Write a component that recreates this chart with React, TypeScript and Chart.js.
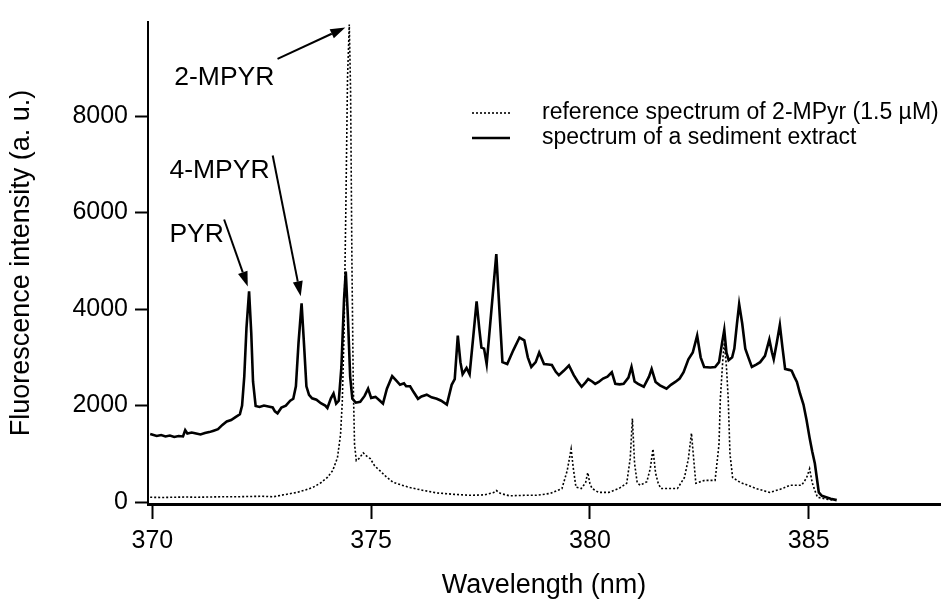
import React, { useEffect, useRef } from "react";
import { Chart, registerables } from "chart.js";

Chart.register(...registerables);

// ---------- data ----------
const SOLID_WL = [
  369.95, 370.1, 370.2, 370.3, 370.4, 370.5, 370.6, 370.7, 370.75, 370.8, 370.9, 371.0, 371.1, 371.2, 371.3, 371.4,
  371.5, 371.6, 371.7, 371.8, 371.9, 372.0, 372.05, 372.1, 372.15, 372.21, 372.26, 372.3, 372.36, 372.45, 372.55,
  372.65, 372.75, 372.8, 372.86, 372.95, 373.05, 373.15, 373.22, 373.28, 373.34, 373.41, 373.47, 373.52, 373.58,
  373.65, 373.75, 373.85, 373.95, 374.0, 374.08, 374.14, 374.2, 374.26, 374.32, 374.38, 374.42, 374.47, 374.52,
  374.57, 374.65, 374.75, 374.85, 374.93, 375.0, 375.1, 375.2, 375.27, 375.36, 375.48, 375.57, 375.66, 375.75,
  375.8, 375.89, 375.97, 376.07, 376.15, 376.27, 376.38, 376.5, 376.6, 376.73, 376.84, 376.91, 376.98, 377.04,
  377.09, 377.18, 377.25, 377.33, 377.41, 377.47, 377.52, 377.58, 377.64, 377.75, 377.86, 377.93, 378.0, 378.11,
  378.25, 378.39, 378.5, 378.58, 378.66, 378.76, 378.84, 378.95, 379.05, 379.13, 379.22, 379.29, 379.4, 379.52,
  379.63, 379.72, 379.81, 379.9, 379.96, 380.05, 380.12, 380.2, 380.3, 380.4, 380.5, 380.58, 380.68, 380.77,
  380.88, 380.95, 381.02, 381.1, 381.23, 381.35, 381.41, 381.5, 381.6, 381.75, 381.85, 381.95, 382.05, 382.14,
  382.25, 382.35, 382.45, 382.53, 382.61, 382.75, 382.86, 382.95, 383.02, 383.07, 383.12, 383.17, 383.25, 383.3,
  383.36, 383.41, 383.48, 383.55, 383.62, 383.7, 383.8, 383.89, 384.0, 384.1, 384.16, 384.2, 384.27, 384.34,
  384.4, 384.46, 384.55, 384.61, 384.67, 384.73, 384.8, 384.88, 384.95, 385.02, 385.08, 385.14, 385.2, 385.23,
  385.3, 385.4, 385.5, 385.64,
];
const SOLID_I = [
  1410, 1370, 1390, 1360, 1380, 1350, 1370, 1360, 1490, 1420, 1440, 1420, 1400, 1430, 1450, 1480,
  1510, 1600, 1670, 1700, 1760, 1820, 2000, 2600, 3600, 4370, 3500, 2500, 1990, 1970, 2000,
  1980, 1960, 1880, 1840, 1960, 2000, 2100, 2140, 2400, 3300, 4120, 3200, 2400, 2220,
  2150, 2120, 2050, 2000, 1950, 2150, 2250, 2040, 2100, 2800, 4200, 4780, 3800, 2600,
  2140, 2060, 2080, 2200, 2350, 2160, 2180, 2100, 2040, 2350, 2610, 2520, 2430, 2460,
  2400, 2400, 2280, 2140, 2190, 2225, 2170, 2140, 2100, 2020, 2430, 2550, 3450, 2900,
  2650, 2780, 2650, 3400, 4160, 3600, 3200, 3180, 2860, 4000, 5140, 4000, 2900, 2860,
  3150, 3410, 3350, 3000, 2800, 2900, 3100, 2860, 2850, 2840, 2700, 2630, 2720, 2830,
  2630, 2500, 2390, 2480, 2550, 2500, 2450, 2490, 2560, 2600, 2690, 2450, 2440, 2450,
  2580, 2800, 2500, 2450, 2390, 2600, 2760, 2490, 2420, 2350, 2430, 2490, 2560, 2690,
  2960, 3100, 3450, 3000, 2800, 2790, 2800, 2900, 3300, 3570, 3100, 2940, 3000, 3180,
  3700, 4100, 3700, 3180, 3000, 2800, 2850, 2900, 3030, 3370, 3100, 2960, 3300, 3670,
  3200, 2760, 2740, 2720, 2600, 2490, 2250, 2020, 1700, 1330, 1050, 800, 400, 200,
  130, 100, 70, 40,
];

const REF_WL = [
  369.95, 370.2, 370.5, 370.8, 371.0, 371.3, 371.6, 371.9, 372.2, 372.5, 372.77, 373.0, 373.3, 373.5, 373.68,
  373.85, 374.0, 374.12, 374.23, 374.3, 374.34, 374.38, 374.42, 374.46, 374.5, 374.53, 374.56, 374.59, 374.62,
  374.66, 374.72, 374.82, 374.9, 374.98, 375.08, 375.2, 375.35, 375.5, 375.7, 375.89, 376.2, 376.5, 376.9,
  377.25, 377.6, 377.8, 377.86, 377.95, 378.16, 378.5, 378.77, 379.1, 379.36, 379.48, 379.57, 379.62, 379.68,
  379.8, 379.9, 379.95, 380.0, 380.05, 380.2, 380.43, 380.66, 380.84, 380.92, 380.97, 381.02, 381.08, 381.15,
  381.3, 381.38, 381.44, 381.5, 381.56, 381.62, 382.0, 382.16, 382.25, 382.32, 382.37, 382.42, 382.62, 382.86,
  382.95, 382.98, 383.04, 383.07, 383.12, 383.16, 383.2, 383.26, 383.43, 383.8, 384.11, 384.4, 384.57, 384.84,
  384.95, 385.02, 385.08, 385.14, 385.2, 385.4, 385.57,
];
const REF_I = [
  100, 95, 100, 105, 100, 105, 110, 110, 115, 120, 110, 150, 200, 250, 310,
  400, 510, 650, 920, 1400, 2080, 3500, 6000, 8800, 9900, 8500, 5000, 2500, 1200,
  860, 900, 1020, 950, 900, 750, 650, 520, 410, 350, 300, 240, 190, 160,
  140, 150, 200, 240, 180, 130, 140, 140, 180, 280, 650, 1100, 700, 310,
  280, 400, 610, 380, 280, 200, 200, 280, 390, 900, 1730, 800, 400, 350,
  420, 700, 1100, 600, 390, 280, 280, 510, 900, 1430, 900, 390, 450, 450,
  1200, 2140, 3000, 3300, 2800, 2140, 1000, 510, 410, 280, 200, 280, 350, 350,
  500, 690, 400, 240, 100, 60, 40,
];

const SERIES_LABELS = ["reference spectrum of 2-MPyr (1.5 \u00B5M)", "spectrum of a sediment extract"];
const PEAK_LABELS = ["2-MPYR", "4-MPYR", "PYR"];
const X_TICKS = [370, 375, 380, 385];
const Y_TICKS = [0, 2000, 4000, 6000, 8000];
const X_TITLE = "Wavelength (nm)";
const Y_TITLE = "Fluorescence intensity (a. u.)";

const FONT = "'Liberation Sans', Arial, Helvetica, sans-serif";

// annotation placement in data coordinates (label anchor, arrow start, arrow tip)
const ANNOTATIONS = [
  { text: PEAK_LABELS[0], at: [370.5, 8654], from: [372.86, 9184], to: [374.41, 9837] },
  { text: PEAK_LABELS[1], at: [370.39, 6715], from: [372.75, 7184], to: [373.39, 4265] },
  { text: PEAK_LABELS[2], at: [370.39, 5388], from: [371.64, 5857], to: [372.18, 4469] },
];

const annotationPlugin = {
  id: "peakAnnotations",
  afterDatasetsDraw(chart: any) {
    const { ctx } = chart;
    const xs = chart.scales.x;
    const ys = chart.scales.y;
    ctx.save();
    ctx.fillStyle = "#000";
    ctx.strokeStyle = "#000";
    ctx.font = `26.5px ${FONT}`;
    ctx.textBaseline = "alphabetic";
    ctx.textAlign = "left";
    for (const a of ANNOTATIONS) {
      ctx.fillText(a.text, xs.getPixelForValue(a.at[0]), ys.getPixelForValue(a.at[1]));
      const x1 = xs.getPixelForValue(a.from[0]);
      const y1 = ys.getPixelForValue(a.from[1]);
      const x2 = xs.getPixelForValue(a.to[0]);
      const y2 = ys.getPixelForValue(a.to[1]);
      const ang = Math.atan2(y2 - y1, x2 - x1);
      const headLen = 15;
      const headW = 5;
      const bx = x2 - headLen * Math.cos(ang);
      const by = y2 - headLen * Math.sin(ang);
      ctx.lineWidth = 2;
      ctx.beginPath();
      ctx.moveTo(x1, y1);
      ctx.lineTo(bx, by);
      ctx.stroke();
      ctx.beginPath();
      ctx.moveTo(x2, y2);
      ctx.lineTo(bx + headW * Math.sin(ang), by - headW * Math.cos(ang));
      ctx.lineTo(bx - headW * Math.sin(ang), by + headW * Math.cos(ang));
      ctx.closePath();
      ctx.fill();
    }
    ctx.restore();
  },
};

const legendPlugin = {
  id: "insideLegend",
  afterDatasetsDraw(chart: any) {
    const { ctx, chartArea } = chart;
    const x0 = chartArea.left + 324;
    const lineLen = 38;
    const textX = chartArea.left + 394;
    const baselines = [chartArea.top + 97, chartArea.top + 122];
    ctx.save();
    ctx.font = `23px ${FONT}`;
    ctx.fillStyle = "#000";
    ctx.textAlign = "left";
    ctx.textBaseline = "alphabetic";
    chart.data.datasets.forEach((ds: any, i: number) => {
      const ly = baselines[i] - 6;
      ctx.strokeStyle = ds.borderColor;
      ctx.lineWidth = ds.borderWidth;
      ctx.setLineDash(ds.borderDash || []);
      ctx.beginPath();
      ctx.moveTo(x0, ly);
      ctx.lineTo(x0 + lineLen, ly);
      ctx.stroke();
      ctx.setLineDash([]);
      ctx.fillText(ds.label, textX, baselines[i]);
    });
    ctx.restore();
  },
};

export default function App() {
  const canvasRef = useRef<HTMLCanvasElement | null>(null);

  useEffect(() => {
    document.body.style.margin = "0";
    const canvas = canvasRef.current;
    if (!canvas) return;

    const refData = REF_WL.map((x, i) => ({ x, y: REF_I[i] }));
    const solidData = SOLID_WL.map((x, i) => ({ x, y: SOLID_I[i] }));

    const chart = new Chart(canvas, {
      type: "line",
      data: {
        datasets: [
          {
            label: SERIES_LABELS[0],
            data: refData,
            borderColor: "#000",
            borderWidth: 1.6,
            borderDash: [2, 2],
            pointRadius: 0,
            tension: 0,
            fill: false,
          },
          {
            label: SERIES_LABELS[1],
            data: solidData,
            borderColor: "#000",
            borderWidth: 2.6,
            pointRadius: 0,
            tension: 0,
            fill: false,
          },
        ],
      },
      options: {
        responsive: false,
        animation: false,
        devicePixelRatio: 1,
        layout: { padding: { top: 15, right: 2, left: 0, bottom: 0 } },
        plugins: {
          legend: { display: false },
          tooltip: { enabled: false },
        },
        scales: {
          x: {
            type: "linear",
            min: 369.9,
            max: 388,
            afterBuildTicks: (scale: any) => {
              scale.ticks = X_TICKS.map((v) => ({ value: v }));
            },
            afterFit: (scale: any) => {
              scale.height = 98;
            },
            ticks: {
              color: "#000",
              font: { family: FONT, size: 25 },
              padding: 7,
              maxRotation: 0,
              autoSkip: false,
              callback: (v: any) => String(v),
            },
            grid: {
              display: true,
              drawOnChartArea: false,
              drawTicks: true,
              tickLength: 15,
              tickWidth: 2,
              color: "#000",
            },
            border: { display: true, color: "#000", width: 3 },
            title: {
              display: true,
              text: X_TITLE,
              color: "#000",
              font: { family: FONT, size: 27 },
              padding: { top: 0, bottom: 0 },
            },
          },
          y: {
            type: "linear",
            min: -40,
            max: 9950,
            afterBuildTicks: (scale: any) => {
              scale.ticks = Y_TICKS.map((v) => ({ value: v }));
            },
            afterFit: (scale: any) => {
              scale.width = 148;
            },
            ticks: {
              color: "#000",
              font: { family: FONT, size: 25 },
              padding: 7,
              callback: (v: any) => String(v),
            },
            grid: {
              display: true,
              drawOnChartArea: false,
              drawTicks: true,
              tickLength: 13,
              tickWidth: 2,
              color: "#000",
            },
            border: { display: true, color: "#000", width: 2 },
            title: {
              display: true,
              text: Y_TITLE,
              color: "#000",
              font: { family: FONT, size: 27 },
              padding: { top: 5, bottom: 0 },
            },
          },
        },
      },
      plugins: [annotationPlugin, legendPlugin],
    } as any);

    return () => {
      chart.destroy();
    };
  }, []);

  return (
    <div style={{ width: 942, height: 602 }}>
      <canvas ref={canvasRef} width={942} height={602} style={{ display: "block" }} />
    </div>
  );
}
